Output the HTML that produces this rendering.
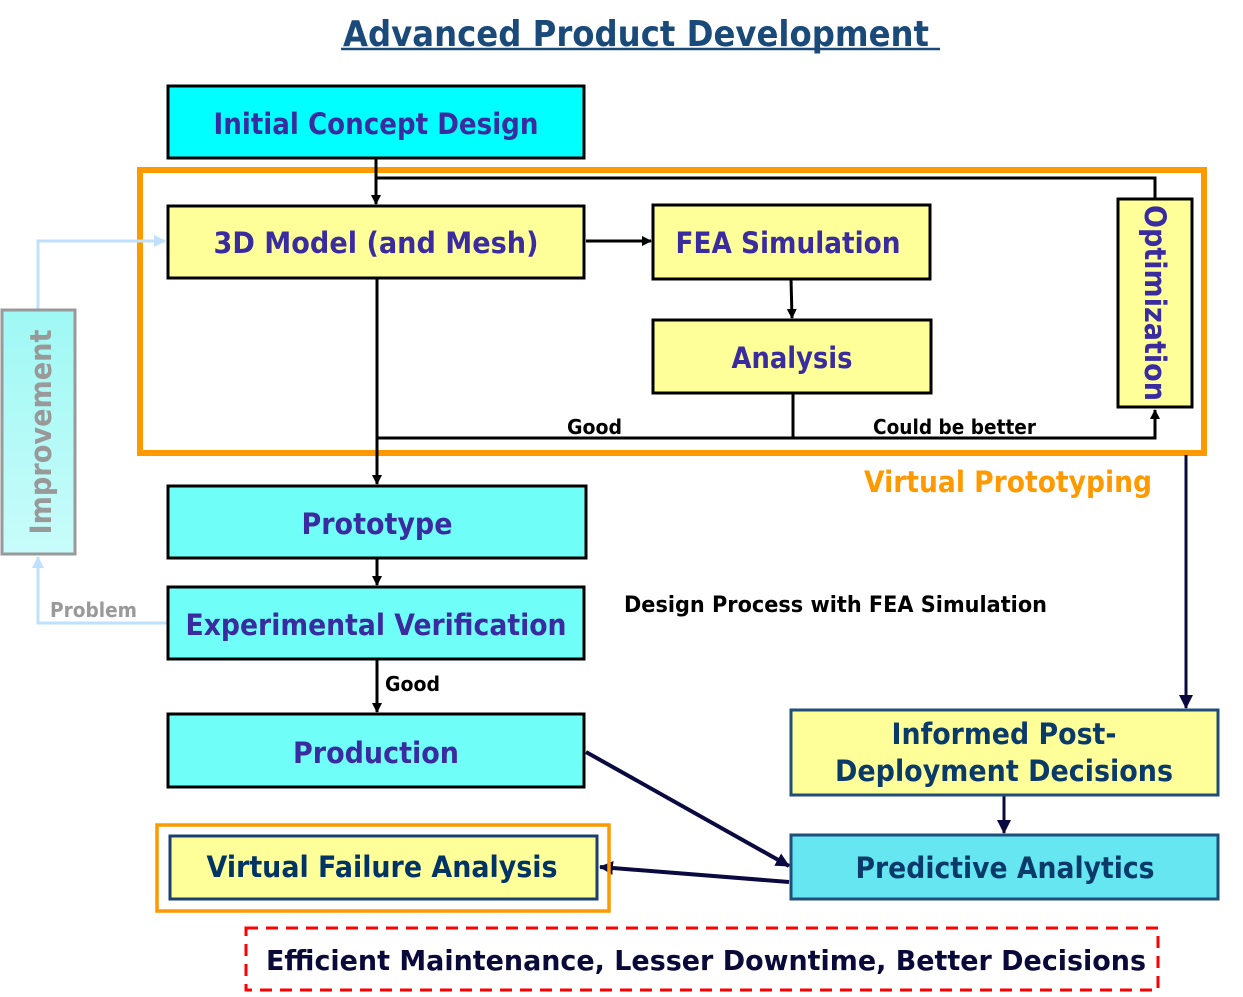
<!DOCTYPE html>
<html><head><meta charset="utf-8"><style>
html,body{margin:0;padding:0;background:#fff;}
svg{display:block;}
text{font-family:"DejaVu Sans","Liberation Sans",sans-serif;font-weight:bold;}
</style></head><body>
<svg width="1243" height="997" viewBox="0 0 1243 997" xmlns="http://www.w3.org/2000/svg">
<defs>
<marker id="ak" markerWidth="10" markerHeight="10" refX="9" refY="5" orient="auto" markerUnits="userSpaceOnUse"><path d="M0,0 L10,5 L0,10 z" fill="#000"/></marker>
<marker id="an" markerWidth="14" markerHeight="14" refX="13" refY="7" orient="auto" markerUnits="userSpaceOnUse"><path d="M0,0 L14,7 L0,14 z" fill="#0a0a40"/></marker>
<marker id="al" markerWidth="12" markerHeight="12" refX="11" refY="6" orient="auto" markerUnits="userSpaceOnUse"><path d="M0,0 L12,6 L0,12 z" fill="#bfe0ff"/></marker>
<linearGradient id="g1" x1="0" y1="0" x2="0" y2="1"><stop offset="0" stop-color="#9ff8f4"/><stop offset="1" stop-color="#c8fcfa"/></linearGradient>
</defs>

<!-- Title -->
<text x="343" y="46" font-size="36" fill="#1a4a7a" textLength="586" lengthAdjust="spacingAndGlyphs">Advanced Product Development</text>
<line x1="341" y1="49" x2="940" y2="49" stroke="#1a4a7a" stroke-width="2.5"/>

<!-- Orange frame -->
<rect x="140" y="170" width="1064" height="283" fill="none" stroke="#ff9900" stroke-width="6"/>

<!-- connectors black -->
<line x1="376" y1="158" x2="376" y2="204" stroke="#000" stroke-width="3" marker-end="url(#ak)"/>
<polyline points="376,178 1155,178 1155,199" fill="none" stroke="#000" stroke-width="3"/>
<line x1="586" y1="241" x2="651" y2="241" stroke="#000" stroke-width="3" marker-end="url(#ak)"/>
<line x1="791" y1="279" x2="792" y2="318" stroke="#000" stroke-width="3" marker-end="url(#ak)"/>
<line x1="377" y1="278" x2="377" y2="484" stroke="#000" stroke-width="3" marker-end="url(#ak)"/>
<polyline points="377,438 1155,438 1155,410" fill="none" stroke="#000" stroke-width="3" marker-end="url(#ak)"/>
<line x1="793" y1="393" x2="793" y2="438" stroke="#000" stroke-width="3"/>
<line x1="377" y1="558" x2="377" y2="585" stroke="#000" stroke-width="3" marker-end="url(#ak)"/>
<line x1="377" y1="659" x2="377" y2="712" stroke="#000" stroke-width="3" marker-end="url(#ak)"/>

<!-- navy connectors -->
<line x1="1186" y1="455" x2="1186" y2="708" stroke="#0a0a40" stroke-width="3" marker-end="url(#an)"/>
<line x1="1004" y1="795" x2="1004" y2="833" stroke="#0a0a40" stroke-width="3" marker-end="url(#an)"/>
<line x1="586" y1="752" x2="789" y2="866" stroke="#0a0a40" stroke-width="4" marker-end="url(#an)"/>
<line x1="789" y1="882" x2="600" y2="867" stroke="#0a0a40" stroke-width="4" marker-end="url(#an)"/>

<!-- light blue loop -->
<polyline points="168,623 38,623 38,557" fill="none" stroke="#bfe0ff" stroke-width="3" marker-end="url(#al)"/>
<polyline points="38,310 38,241 165,241" fill="none" stroke="#bfe0ff" stroke-width="3" marker-end="url(#al)"/>

<!-- Boxes -->
<rect x="168" y="86" width="416" height="72" fill="#00ffff" stroke="#000" stroke-width="3"/>
<text x="376" y="134" font-size="29" fill="#3a2ca0" text-anchor="middle" textLength="325" lengthAdjust="spacingAndGlyphs">Initial Concept Design</text>

<rect x="168" y="206" width="416" height="72" fill="#ffff99" stroke="#000" stroke-width="3"/>
<text x="376" y="253" font-size="29" fill="#3a2ca0" text-anchor="middle" textLength="325" lengthAdjust="spacingAndGlyphs">3D Model (and Mesh)</text>

<rect x="653" y="205" width="277" height="74" fill="#ffff99" stroke="#000" stroke-width="3"/>
<text x="788" y="253" font-size="29" fill="#3a2ca0" text-anchor="middle" textLength="225" lengthAdjust="spacingAndGlyphs">FEA Simulation</text>

<rect x="653" y="320" width="278" height="73" fill="#ffff99" stroke="#000" stroke-width="3"/>
<text x="792" y="368" font-size="29" fill="#3a2ca0" text-anchor="middle" textLength="121" lengthAdjust="spacingAndGlyphs">Analysis</text>

<rect x="1118" y="199" width="74" height="208" fill="#ffff99" stroke="#000" stroke-width="3"/>
<text transform="translate(1145,303) rotate(90)" font-size="29" fill="#3a2ca0" text-anchor="middle" textLength="196" lengthAdjust="spacingAndGlyphs">Optimization</text>

<rect x="168" y="486" width="418" height="72" fill="#70fff8" stroke="#000" stroke-width="3"/>
<text x="377" y="534" font-size="29" fill="#3a2ca0" text-anchor="middle" textLength="151" lengthAdjust="spacingAndGlyphs">Prototype</text>

<rect x="168" y="587" width="416" height="72" fill="#70fff8" stroke="#000" stroke-width="3"/>
<text x="376" y="635" font-size="29" fill="#3a2ca0" text-anchor="middle" textLength="381" lengthAdjust="spacingAndGlyphs">Experimental Verification</text>

<rect x="168" y="714" width="416" height="73" fill="#70fff8" stroke="#000" stroke-width="3"/>
<text x="376" y="763" font-size="29" fill="#3a2ca0" text-anchor="middle" textLength="166" lengthAdjust="spacingAndGlyphs">Production</text>

<rect x="2" y="310" width="73" height="244" fill="url(#g1)" stroke="#999" stroke-width="3"/>
<text transform="translate(51,432) rotate(-90)" font-size="29" fill="#999" text-anchor="middle" textLength="205" lengthAdjust="spacingAndGlyphs">Improvement</text>

<rect x="157" y="825" width="452" height="86" fill="none" stroke="#ff9900" stroke-width="3.5"/>
<rect x="170" y="836" width="427" height="63" fill="#ffff99" stroke="#1a4070" stroke-width="3"/>
<text x="382" y="877" font-size="29" fill="#003366" text-anchor="middle" textLength="351" lengthAdjust="spacingAndGlyphs">Virtual Failure Analysis</text>

<rect x="791" y="710" width="427" height="85" fill="#ffff99" stroke="#1f4e79" stroke-width="3"/>
<text x="1004" y="744" font-size="29" fill="#0a3a6a" text-anchor="middle" textLength="225" lengthAdjust="spacingAndGlyphs">Informed Post-</text>
<text x="1004" y="781" font-size="29" fill="#0a3a6a" text-anchor="middle" textLength="338" lengthAdjust="spacingAndGlyphs">Deployment Decisions</text>

<rect x="791" y="835" width="427" height="64" fill="#66e6f0" stroke="#1f4e79" stroke-width="3"/>
<text x="1005" y="878" font-size="29" fill="#0a3a6a" text-anchor="middle" textLength="299" lengthAdjust="spacingAndGlyphs">Predictive Analytics</text>

<rect x="246" y="928" width="912" height="62" fill="none" stroke="#ff0000" stroke-width="3" stroke-dasharray="12,8"/>
<text x="266" y="970" font-size="28" fill="#0a0a3a" textLength="880" lengthAdjust="spacingAndGlyphs">Efficient Maintenance, Lesser Downtime, Better Decisions</text>

<!-- labels -->
<text x="864" y="492" font-size="29" fill="#ff9900" textLength="288" lengthAdjust="spacingAndGlyphs">Virtual Prototyping</text>
<text x="624" y="612" font-size="22" fill="#000" textLength="423" lengthAdjust="spacingAndGlyphs">Design Process with FEA Simulation</text>
<text x="567" y="434" font-size="20" fill="#000" textLength="55" lengthAdjust="spacingAndGlyphs">Good</text>
<text x="873" y="434" font-size="20" fill="#000" textLength="163" lengthAdjust="spacingAndGlyphs">Could be better</text>
<text x="385" y="691" font-size="20" fill="#000" textLength="55" lengthAdjust="spacingAndGlyphs">Good</text>
<text x="50" y="617" font-size="20" fill="#999" textLength="87" lengthAdjust="spacingAndGlyphs">Problem</text>
</svg>
</body></html>
